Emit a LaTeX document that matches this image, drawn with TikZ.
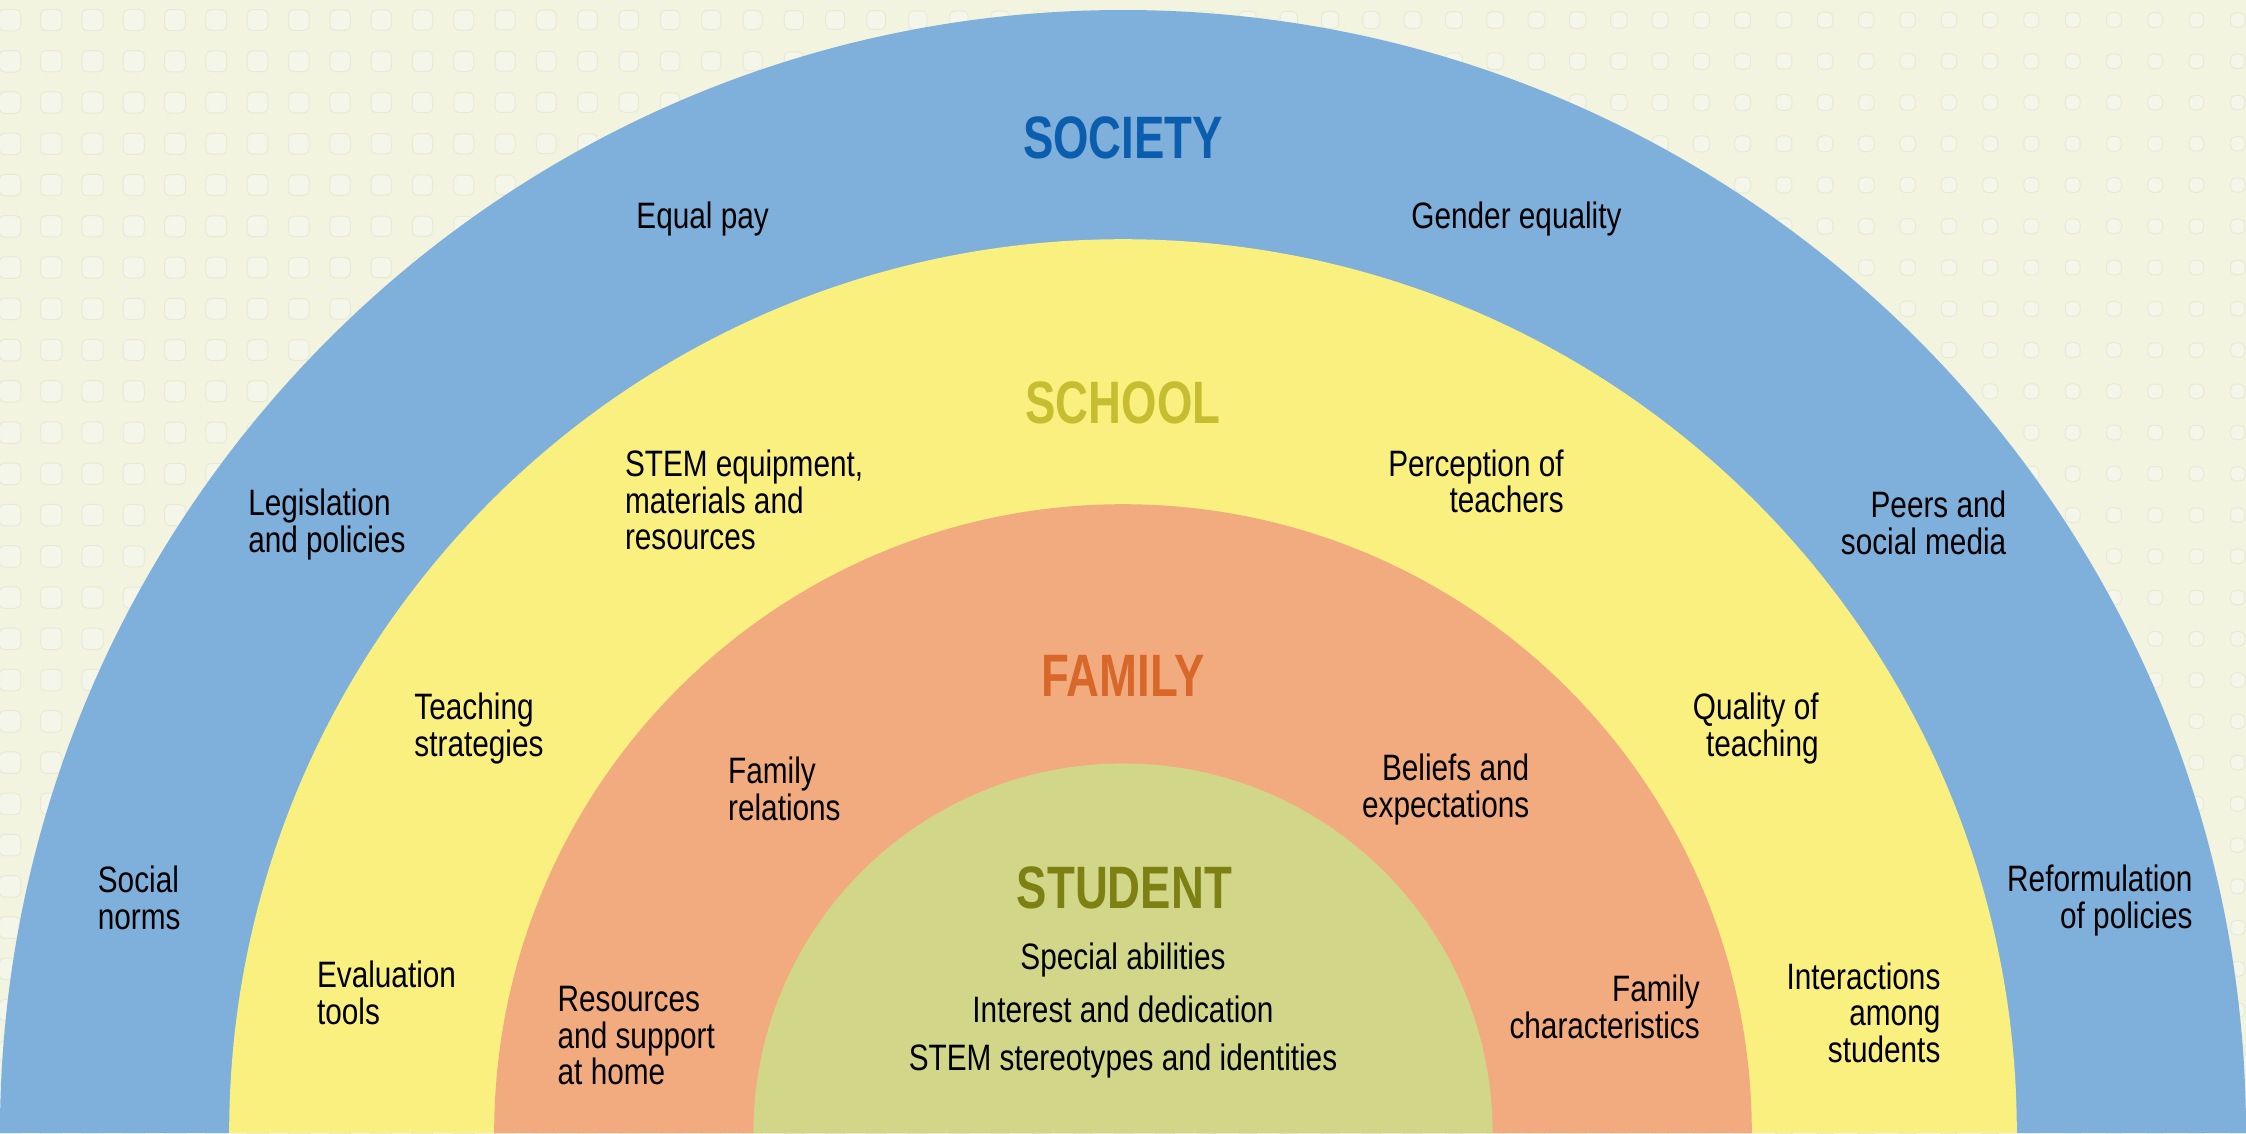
\documentclass[tikz,border=0pt]{standalone}
\usepackage{fontspec}
\setmainfont{Liberation Sans}[FakeStretch=0.81]
\newfontfamily\headfont{Liberation Sans}[FakeStretch=0.76]

\definecolor{bgcream}{HTML}{F2F4E0}
\definecolor{dotfill}{HTML}{F5F6EA}
\definecolor{dotline}{HTML}{E8EAD6}
\definecolor{societyblue}{HTML}{7FAFDB}
\definecolor{schoolyellow}{HTML}{FAF07F}
\definecolor{familyorange}{HTML}{F2AB7F}
\definecolor{studentgreen}{HTML}{D1D689}
\definecolor{societytext}{HTML}{0B5EAD}
\definecolor{schooltext}{HTML}{C6BD30}
\definecolor{familytext}{HTML}{D7682A}
\definecolor{studenttext}{HTML}{7D8013}

\tikzset{
  lbl/.style={inner sep=0pt, align=left, anchor=west, font=\fontsize{14.6}{14.6}\selectfont},
  rlbl/.style={lbl, align=right, anchor=east},
  ttl/.style={inner sep=0pt, font=\headfont\bfseries\fontsize{23.8}{24}\selectfont},
  dotsq/.style={draw=dotline, fill=dotfill, line width=0.4pt, rounded corners=2pt}
}

\begin{document}
\begin{tikzpicture}[x=0.02cm, y=0.02cm]
\useasboundingbox (-784,0) rectangle (784,791);
\fill[bgcream] (-784,0) rectangle (784,791);
\coordinate (O) at (0,0);

% dotted background
\foreach \i in {0,...,54}{
  \foreach \j in {0,...,27}{
    \pgfmathsetmacro\s{7.5-2.5*\i/54}
    \draw[dotsq] (\i*28.8-777-\s, 777-\j*28.8-\s) rectangle ++(2*\s,2*\s);
  }
}

% the four half rings
\fill[societyblue] (O) ++(-784,0) arc[start angle=180, end angle=0, radius=784] -- cycle;
\fill[schoolyellow] (O) ++(-624,0) arc[start angle=180, end angle=0, radius=624] -- cycle;
\fill[familyorange] (O) ++(-439,0) arc[start angle=180, end angle=0, radius=439] -- cycle;
\fill[studentgreen] (O) ++(-258,0) arc[start angle=180, end angle=0, radius=258] -- cycle;

% society
\node[ttl, text=societytext] (society) at (0,695) {SOCIETY};
\node[lbl] (equalpay) at (-340,638) {Equal pay};
\node[lbl] (gender) at (201,638) {Gender equality};
\node[lbl] (legislation) at (-611,425) {Legislation\\and policies};
\node[rlbl] (peers) at (617,426) {Peers and\\social media};
\node[lbl] (norms) at (-716,164) {Social\\norms};
\node[rlbl] (reform) at (747,162.5) {Reformulation\\of policies};

% school
\node[ttl, text=schooltext] (school) at (0,510) {SCHOOL};
\node[lbl] (equipment) at (-348,442) {STEM equipment,\\materials and\\resources};
\node[rlbl] (perception) at (308,455) {Perception of\\teachers};
\node[lbl] (strategies) at (-495,282.5) {Teaching\\strategies};
\node[rlbl] (quality) at (486,282.5) {Quality of\\teaching};
\node[lbl] (evaluation) at (-563,98) {Evaluation\\tools};
\node[rlbl] (interactions) at (571,84) {Interactions\\among\\students};

% family
\node[ttl, text=familytext] (family) at (0,319) {FAMILY};
\node[lbl] (relations) at (-276,240.5) {Family\\relations};
\node[rlbl] (beliefs) at (284,240) {Beliefs and\\expectations};
\node[lbl] (home) at (-395,68) {Resources\\and support\\at home};
\node[rlbl] (characteristics) at (403,88) {Family\\characteristics};

% student
\node[ttl, text=studenttext] (student) at (1,171) {STUDENT};
\node[lbl, anchor=center] (abilities) at (0,121) {Special abilities};
\node[lbl, anchor=center] (interest) at (0,86) {Interest and dedication};
\node[lbl, anchor=center] (stereotypes) at (0,50) {STEM stereotypes and identities};
\end{tikzpicture}
\end{document}
